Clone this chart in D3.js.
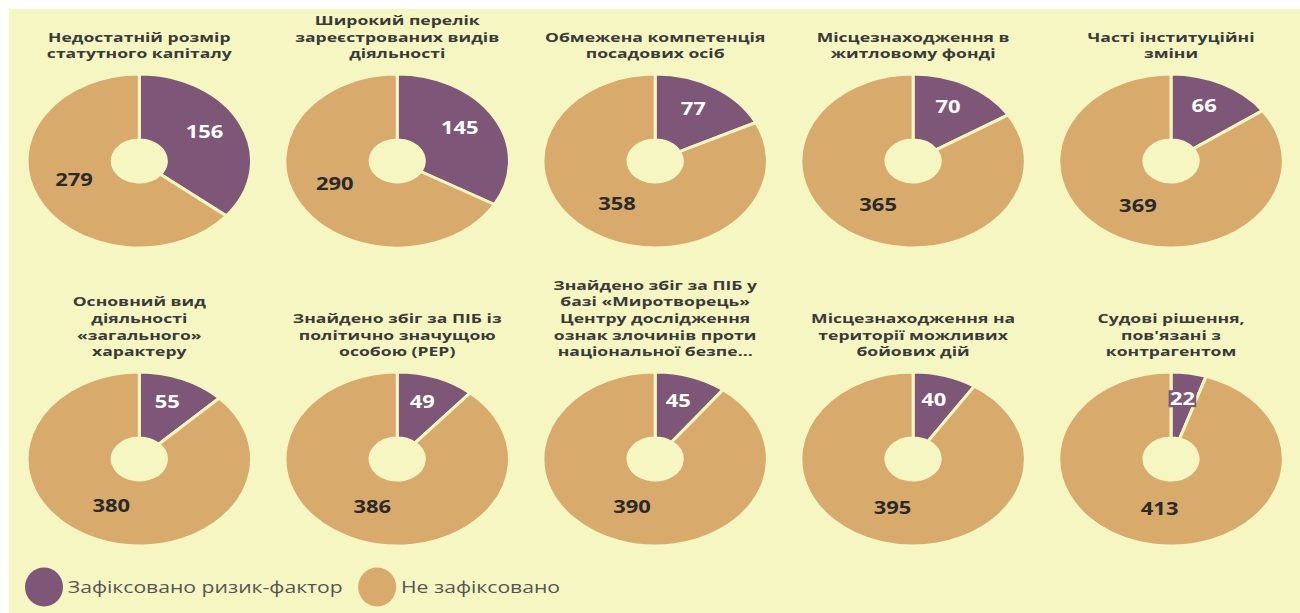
<!DOCTYPE html>
<html>
<head>
<meta charset="utf-8">
<script src="https://cdn.jsdelivr.net/npm/d3@7/dist/d3.min.js"></script>
<style>
  html, body { margin: 0; padding: 0; background: #ffffff; }
  svg { display: block; }
</style>
</head>
<body>
<svg id="chart" width="1300" height="613"></svg>
<script>
// ---- data ----
const categories = [
  "Недостатній розмір\nстатутного капіталу",
  "Широкий перелік\nзареєстрованих видів\nдіяльності",
  "Обмежена компетенція\nпосадових осіб",
  "Місцезнаходження в\nжитловому фонді",
  "Часті інституційні\nзміни",
  "Основний вид\nдіяльності\n«загального»\nхарактеру",
  "Знайдено збіг за ПІБ із\nполітично значущою\nособою (PEP)",
  "Знайдено збіг за ПІБ у\nбазі «Миротворець»\nЦентру дослідження\nознак злочинів проти\nнаціональної безпе...",
  "Місцезнаходження на\nтериторії можливих\nбойових дій",
  "Судові рішення,\nпов'язані з\nконтрагентом"
];
const riskValues   = [156, 145, 77, 70, 66, 55, 49, 45, 40, 22];
const noRiskValues = [279, 290, 358, 365, 369, 380, 386, 390, 395, 413];
const seriesNames  = ["Зафіксовано ризик-фактор", "Не зафіксовано"];

// ---- styles ----
const colors = ["#7e5677", "#d8aa6b"];
const bg = "#f5f6c1";
const sx = 1.29;               // horizontal stretch of the reference
const W = 1300, H = 613;
const innerW = W / sx;

const svg = d3.select("#chart");
svg.append("rect").attr("x", 9).attr("y", 9).attr("width", W - 9).attr("height", H - 9).attr("fill", bg);

const g = svg.append("g").attr("transform", `scale(${sx},1)`);

const xCol = d3.scaleBand().domain(d3.range(5)).range([8, innerW]);
const rowCenterY = [161, 459];
const titleBottomY = [54, 352];
const lineH = 16.6;
const titleFont = 12.2, titleStretch = 13.6 / 12.2;

const color = d3.scaleOrdinal().domain(seriesNames).range(colors);
const pie = d3.pie().sort(null).value(d => d.value);
const outerR = 87, innerR = 21;
const arc = d3.arc().innerRadius(innerR).outerRadius(outerR);
const labelArc = d3.arc().innerRadius(56).outerRadius(56);

categories.forEach((cat, i) => {
  const col = i % 5, row = Math.floor(i / 5);
  const cx = xCol(col) + xCol.bandwidth() / 2;
  const cy = rowCenterY[row];

  // title (one text per line, slightly widened like the reference)
  const lines = cat.split("\n");
  const tg = g.append("g").attr("transform", `translate(${cx},0) scale(${titleStretch},1)`);
  lines.forEach((ln, k) => {
    tg.append("text")
      .attr("x", 0)
      .attr("y", titleBottomY[row] - (lines.length - 1 - k) * lineH)
      .attr("dy", "0.35em")
      .attr("text-anchor", "middle")
      .attr("font-family", "'Open Sans', sans-serif")
      .attr("font-weight", 700)
      .attr("font-size", titleFont)
      .attr("fill", "#3a3a3a")
      .text(ln);
  });

  const data = [
    { name: seriesNames[0], value: riskValues[i] },
    { name: seriesNames[1], value: noRiskValues[i] }
  ];
  const arcs = pie(data);
  const pg = g.append("g").attr("transform", `translate(${cx},${cy})`);

  pg.selectAll("path.slice")
    .data(arcs)
    .join("path")
    .attr("class", "slice")
    .attr("d", arc)
    .attr("fill", d => color(d.data.name))
    .attr("stroke", bg)
    .attr("stroke-width", 3)
    .attr("vector-effect", "non-scaling-stroke");

  arcs.forEach((a, j) => {
    const [lx, ly0] = labelArc.centroid(a);
    const ly = ly0 - 5;
    const lg = pg.append("g");
    const txt = lg.append("text")
      .attr("x", lx).attr("y", ly)
      .attr("dy", "0.36em")
      .attr("text-anchor", "middle")
      .attr("font-family", "'Open Sans', sans-serif")
      .attr("font-weight", 700)
      .attr("font-size", 17)
      .attr("fill", j === 0 ? "#ffffff" : "#2a2a2a")
      .text(a.data.value);
    if (a.endAngle - a.startAngle < 0.4) {
      const bb = txt.node().getBBox();
      lg.insert("rect", "text")
        .attr("x", bb.x - 1).attr("y", ly - 8.5)
        .attr("width", bb.width + 2).attr("height", 17)
        .attr("fill", color(a.data.name));
    }
  });
});

// legend
const legY = 587;
let lx = 44 / sx;
seriesNames.forEach((name, k) => {
  g.append("ellipse")
    .attr("cx", lx).attr("cy", legY)
    .attr("rx", 19 / sx).attr("ry", 19.5)
    .attr("fill", color(name));
  const tt = g.append("text")
    .attr("x", lx + 18.5)
    .attr("y", legY).attr("dy", "0.35em")
    .attr("font-family", "'Open Sans', sans-serif")
    .attr("font-size", 16.4)
    .attr("fill", "#555555")
    .text(name);
  const bb = tt.node().getBBox();
  lx = bb.x + bb.width + 12 + 19 / sx;
});
</script>
</body>
</html>
